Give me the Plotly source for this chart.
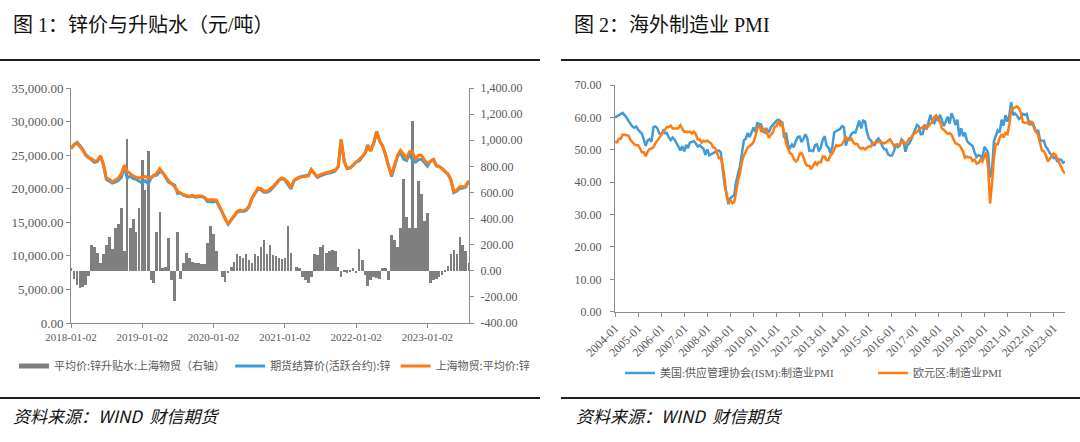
import plotly.graph_objects as go

# ---------------- Left chart: zinc price & premium (semi-monthly readings) ----------------
zinc_spot = [
    26000, 26500, 26800, 26300, 25800, 25000, 24600, 24500, 24100, 24200,
    24900, 23700, 21600, 21400, 21000, 21300, 21600, 22200, 23500, 22600,
    22200, 21900, 21700, 21600, 21700, 21800, 21600, 21600, 21900, 22300,
    23000, 22400, 21700, 21200, 20700, 20300, 19600, 19300, 19100, 19000,
    18900, 19000, 18800, 18900, 18900, 18700, 18300, 18400, 18300, 18300,
    17300, 16400, 15400, 14700, 15400, 16000, 16600, 16800, 16700, 16900,
    17400, 18600, 19500, 20100, 20000, 19700, 19600, 19900, 20300, 20800,
    21300, 21600, 21400, 21000, 20100, 21200, 21500, 21700, 21800, 21800,
    21900, 22800, 22300, 21800, 22100, 22300, 22400, 22500, 22600, 22800,
    23300, 27300, 24000, 23000, 23100, 23500, 24000, 24300, 24800, 25300,
    26400, 25600, 26800, 28500, 27100, 26400, 25000, 23300, 22100, 23500,
    25000, 25700, 25100, 24600, 25500, 25500, 24300, 25000, 25000, 24300,
    23800, 24000, 24300, 23400, 23300, 23000, 22600, 22200, 21400, 19600,
    19800, 20300, 20300, 20400, 21200,
]
zinc_futures = [
    25980, 26560, 26910, 26430, 25930, 25110, 24640, 24300, 23920, 24060,
    24840, 23570, 21400, 21140, 20830, 20970, 21240, 21720, 23350, 21590,
    21870, 21500, 21400, 21120, 20850, 21180, 20680, 21670, 21990, 22000,
    22550, 22380, 21670, 20950, 20770, 20530, 19300, 19360, 19040, 18860,
    18800, 18930, 18740, 18840, 18845, 18650, 18090, 18060, 18020, 18150,
    17300, 16445, 15485, 14720, 15370, 15930, 16470, 16690, 16600, 16770,
    17320, 18540, 19370, 19990, 19815, 19465, 19470, 19700, 20180, 20690,
    21205, 21510, 21300, 20660, 19960, 21200, 21470, 21680, 21845, 21870,
    21995, 22845, 22170, 21680, 21915, 22105, 22260, 22350, 22440, 22650,
    23270, 27345, 24010, 23015, 23110, 23480, 24020, 24130, 24720, 25330,
    26520, 25670, 26845, 28555, 27160, 26380, 24980, 23370, 21825, 23265,
    24815, 25370, 24400, 24190, 25170, 24350, 23970, 24310, 24410, 23920,
    23360, 24095, 24370, 23460, 23345, 23035, 22610, 22160, 21270, 19440,
    19670, 20040, 20100, 20250, 21140,
]
zinc_premium = [
    20, -60, -110, -130, -125, -110, -40, 200, 180, 140,
    60, 130, 200, 260, 170, 330, 360, 480, 150, 1010,
    330, 400, 300, 480, 850, 620, 920, -70, -90, 300,
    450, 20, 30, 250, -70, -230, 300, -60, 60, 140,
    100, 70, 60, 60, 55, 50, 210, 340, 280, 150,
    0, -45, -85, -20, 30, 70, 130, 110, 100, 130,
    80, 60, 130, 110, 185, 235, 130, 200, 120, 110,
    95, 90, 100, 340, 140, 0, 30, 20, -45, -70,
    -95, -45, 130, 120, 185, 195, 140, 150, 160, 150,
    30, -45, -10, -15, -10, 20, -20, 170, 80, -30,
    -120, -70, -45, -55, -60, 20, 20, -70, 275, 235,
    185, 330, 700, 410, 330, 1150, 330, 690, 590, 380,
    440, -95, -70, -60, -45, -35, -10, 40, 130, 160,
    130, 260, 200, 150, 60,
]
left_price_ticks = [0, 5000, 10000, 15000, 20000, 25000, 30000, 35000]
left_price_labels = ["0.00", "5,000.00", "10,000.00", "15,000.00", "20,000.00",
                     "25,000.00", "30,000.00", "35,000.00"]
left_prem_ticks = [-400, -200, 0, 200, 400, 600, 800, 1000, 1200, 1400]
left_prem_labels = ["-400.00", "-200.00", "0.00", "200.00", "400.00", "600.00",
                    "800.00", "1,000.00", "1,200.00", "1,400.00"]
left_x_ticks = ["2018-01-02", "2019-01-02", "2020-01-02", "2021-01-02",
                "2022-01-02", "2023-01-02"]

# ---------------- Right chart: overseas manufacturing PMI (monthly) ----------------
ism_pmi = [
    60.0, 60.4, 60.8, 61.2, 61.4, 60.7, 60.0, 58.9, 58.1, 57.2, 56.8, 57.2,  # 2004
    56.2, 55.4, 55.0, 53.1, 51.2, 52.9, 53.3, 52.5, 57.0, 57.2, 56.6, 55.1,  # 2005
    54.7, 55.9, 55.1, 55.2, 53.8, 53.0, 53.8, 53.1, 52.2, 51.0, 49.8, 51.1,  # 2006
    49.5, 51.5, 50.5, 52.3, 52.4, 52.7, 52.0, 51.0, 51.4, 50.9, 50.3, 48.4,  # 2007
    50.1, 48.3, 48.7, 48.9, 49.3, 49.6, 49.8, 49.2, 44.8, 38.9, 36.5, 33.2,  # 2008
    35.1, 35.5, 36.0, 40.1, 42.8, 45.0, 48.9, 52.9, 53.4, 55.2, 53.9, 55.2,  # 2009
    56.9, 55.5, 58.2, 58.0, 57.8, 56.0, 55.3, 56.3, 55.3, 56.9, 57.7, 58.5,  # 2010
    59.0, 59.3, 58.9, 58.4, 53.7, 55.3, 51.4, 50.6, 51.6, 50.8, 52.7, 53.9,  # 2011
    54.1, 52.4, 53.4, 54.8, 53.5, 49.7, 49.8, 49.6, 51.5, 51.7, 49.5, 50.7,  # 2012
    53.1, 54.2, 51.3, 50.7, 49.0, 50.9, 55.4, 55.7, 56.2, 56.4, 57.3, 57.0,  # 2013
    51.3, 53.2, 53.7, 54.9, 55.4, 55.3, 57.1, 59.0, 56.6, 59.0, 58.7, 55.5,  # 2014
    53.5, 52.9, 51.5, 51.5, 52.8, 53.5, 52.7, 51.1, 50.2, 50.1, 48.6, 48.2,  # 2015
    48.2, 49.5, 51.8, 50.8, 51.3, 53.2, 52.6, 49.4, 51.5, 51.9, 53.2, 54.7,  # 2016
    56.0, 57.7, 57.2, 54.8, 54.9, 57.8, 56.3, 58.8, 60.8, 58.7, 58.2, 59.7,  # 2017
    59.1, 60.8, 59.3, 57.3, 58.7, 60.2, 58.1, 61.3, 59.8, 57.7, 59.3, 54.1,  # 2018
    56.6, 54.2, 55.3, 52.8, 52.1, 51.7, 51.2, 49.1, 47.8, 48.3, 48.1, 47.2,  # 2019
    50.9, 50.1, 49.1, 41.5, 43.1, 52.6, 54.2, 56.0, 55.4, 59.3, 57.5, 60.7,  # 2020
    58.7, 60.8, 64.7, 60.7, 61.2, 60.6, 59.5, 59.9, 61.1, 60.8, 61.1, 58.8,  # 2021
    57.6, 58.6, 57.1, 55.4, 56.1, 53.0, 52.8, 52.8, 50.9, 50.2, 49.0, 48.4,  # 2022
    47.4, 47.7, 46.3, 47.1, 46.9, 46.0, 46.4,                                # 2023
]
ez_pmi = [
    52.4, 52.3, 53.4, 53.4, 54.7, 54.5, 54.5, 54.4, 53.1, 52.4, 51.7, 51.4,  # 2004
    51.4, 50.4, 49.2, 49.2, 48.0, 49.4, 50.2, 50.4, 50.8, 52.0, 52.8, 53.6,  # 2005
    54.4, 55.2, 56.1, 57.0, 57.0, 57.4, 56.6, 56.5, 56.6, 56.7, 57.6, 56.5,  # 2006
    55.5, 55.6, 55.4, 55.6, 55.0, 55.6, 54.9, 53.2, 53.2, 52.2, 52.8, 52.6,  # 2007
    52.8, 52.3, 52.0, 50.7, 50.6, 49.2, 47.4, 47.6, 45.0, 41.1, 35.6, 33.9,  # 2008
    34.4, 33.5, 33.9, 36.8, 40.7, 42.6, 46.3, 48.2, 49.3, 50.7, 51.2, 51.6,  # 2009
    52.4, 54.2, 56.6, 57.6, 55.8, 55.6, 56.7, 55.1, 53.7, 54.6, 55.3, 57.1,  # 2010
    57.3, 59.0, 57.5, 58.0, 54.6, 52.0, 50.4, 49.0, 48.5, 47.1, 46.4, 46.9,  # 2011
    48.8, 49.0, 47.7, 45.9, 45.1, 45.1, 44.0, 45.1, 46.1, 45.4, 46.2, 46.1,  # 2012
    47.9, 47.9, 46.8, 46.7, 48.3, 48.8, 50.3, 51.4, 51.1, 51.3, 51.6, 52.7,  # 2013
    54.0, 53.2, 53.0, 53.4, 52.2, 51.8, 51.8, 50.7, 50.3, 50.6, 50.1, 50.6,  # 2014
    51.0, 51.0, 52.2, 52.0, 52.2, 52.5, 52.4, 52.3, 52.0, 52.3, 52.8, 53.2,  # 2015
    52.3, 51.2, 51.6, 51.7, 51.5, 52.8, 52.0, 51.7, 52.6, 53.5, 53.7, 54.9,  # 2016
    55.2, 55.4, 56.2, 56.7, 57.0, 57.4, 56.6, 57.4, 58.1, 58.5, 60.1, 60.6,  # 2017
    59.6, 58.6, 56.6, 56.2, 55.5, 54.9, 55.1, 54.6, 53.2, 52.0, 51.8, 51.4,  # 2018
    50.5, 49.3, 47.5, 47.9, 47.7, 47.6, 46.5, 47.0, 45.7, 45.9, 46.9, 46.3,  # 2019
    47.9, 49.2, 44.5, 33.4, 39.4, 47.4, 51.8, 51.7, 53.7, 54.8, 53.8, 55.2,  # 2020
    54.8, 57.9, 62.5, 62.9, 63.1, 63.4, 62.8, 61.4, 58.6, 58.3, 58.4, 58.0,  # 2021
    58.7, 58.2, 56.5, 55.5, 54.6, 52.1, 49.8, 49.6, 48.4, 46.4, 47.1, 47.8,  # 2022
    48.8, 48.5, 47.3, 45.8, 44.8, 43.4, 42.7,                                # 2023
]
right_y_ticks = [0, 10, 20, 30, 40, 50, 60, 70]
right_y_labels = ["0.00", "10.00", "20.00", "30.00", "40.00", "50.00", "60.00", "70.00"]
right_years = list(range(2004, 2024))

# ---------------- dates (categories) ----------------
left_dates = []
for i in range(len(zinc_spot)):
    yr = 2018 + (i // 2) // 12
    mo = (i // 2) % 12 + 1
    dy = 2 if i % 2 == 0 else 17
    left_dates.append(f"{yr}-{mo:02d}-{dy:02d}")

pmi_dates = []
for i in range(len(ism_pmi)):
    yr = 2004 + i // 12
    mo = i % 12 + 1
    pmi_dates.append(f"{yr}-{mo:02d}-01")

BLUE = "#3F9BDA"
ORANGE = "#FF7B0F"
GRAY = "#7F7F7F"
AXIS = "#8C8C8C"
TXT = "#595959"
CJK = "Noto Sans CJK SC"
SERIF = "Liberation Serif, Noto Sans CJK SC"

fig = go.Figure()

# left chart
fig.add_trace(go.Bar(x=left_dates, y=zinc_premium, xaxis="x", yaxis="y",
                     marker=dict(color=GRAY, line=dict(width=0)),
                     showlegend=False, name="平均价:锌升贴水:上海物贸（右轴）"))
fig.add_trace(go.Scatter(x=[None], y=[None], xaxis="x", yaxis="y", mode="lines",
                         line=dict(color=GRAY, width=5),
                         name="平均价:锌升贴水:上海物贸（右轴）", legend="legend"))
fig.add_trace(go.Scatter(x=left_dates, y=zinc_futures, xaxis="x", yaxis="y2", mode="lines",
                         line=dict(color=BLUE, width=3),
                         name="期货结算价(活跃合约):锌", legend="legend"))
fig.add_trace(go.Scatter(x=left_dates, y=zinc_spot, xaxis="x", yaxis="y2", mode="lines",
                         line=dict(color=ORANGE, width=3),
                         name="上海物贸:平均价:锌", legend="legend"))

# right chart
fig.add_trace(go.Scatter(x=pmi_dates, y=ism_pmi, xaxis="x2", yaxis="y3", mode="lines",
                         line=dict(color=BLUE, width=2.5),
                         name="美国:供应管理协会(ISM):制造业PMI", legend="legend2"))
fig.add_trace(go.Scatter(x=pmi_dates, y=ez_pmi, xaxis="x2", yaxis="y3", mode="lines",
                         line=dict(color=ORANGE, width=2.5),
                         name="欧元区:制造业PMI", legend="legend2"))

axis_common = dict(showgrid=False, zeroline=False, showline=True, linecolor=AXIS,
                   linewidth=1, ticks="outside", ticklen=4, tickcolor=AXIS)

def tfont(size):
    return dict(family=SERIF, size=size, color=TXT)

W, H = 1080, 442
def px_x(v):
    return v / W
def px_y(v):
    return 1 - v / H

fig.update_layout(
    width=W, height=H, margin=dict(l=0, r=0, t=0, b=0, autoexpand=False),
    paper_bgcolor="white", plot_bgcolor="white",
    bargap=0,
    xaxis=dict(**axis_common, domain=[px_x(71), px_x(469)], anchor="y", type="date",
               range=["2018-01-02", "2023-08-03"], tickvals=left_x_ticks,
               ticktext=left_x_ticks, tickfont=tfont(11)),
    yaxis=dict(**axis_common, domain=[px_y(323), px_y(88)], anchor="x", side="right",
               range=[-400, 1400], tickvals=left_prem_ticks, ticktext=left_prem_labels,
               tickfont=tfont(12), ticklabelstandoff=4),
    yaxis2=dict(**axis_common, overlaying="y", anchor="x", side="left",
                range=[0, 35000], tickvals=left_price_ticks, ticktext=left_price_labels,
                tickfont=tfont(13)),
    xaxis2=dict(**axis_common, domain=[px_x(615), px_x(1065)], anchor="y3", type="date",
                range=["2004-01-01", "2023-07-01"],
                tickvals=[f"{y}-01-01" for y in right_years],
                ticktext=[f"{y}-01" for y in right_years], tickangle=-45,
                tickfont=tfont(12)),
    yaxis3=dict(**axis_common, domain=[px_y(311.7), px_y(85)], anchor="x2",
                range=[0, 70], tickvals=right_y_ticks, ticktext=right_y_labels,
                tickfont=tfont(12), ticklabelstandoff=6),
    legend=dict(orientation="h", x=px_x(14), y=px_y(366), xanchor="left", yanchor="middle",
                font=dict(family=CJK, size=11, color=TXT), bgcolor="rgba(0,0,0,0)",
                itemwidth=30, tracegroupgap=0),
    legend2=dict(orientation="h", x=px_x(620), y=px_y(373), xanchor="left", yanchor="middle",
                 font=dict(family=SERIF, size=11, color=TXT), bgcolor="rgba(0,0,0,0)",
                 itemwidth=30, entrywidth=208, entrywidthmode="pixels"),
    shapes=[
        dict(type="line", xref="paper", yref="paper", x0=0, x1=px_x(540),
             y0=px_y(60), y1=px_y(60), line=dict(color="#1E1E1E", width=2)),
        dict(type="line", xref="paper", yref="paper", x0=px_x(561), x1=1,
             y0=px_y(60), y1=px_y(60), line=dict(color="#1E1E1E", width=2)),
        dict(type="line", xref="paper", yref="paper", x0=0, x1=px_x(540),
             y0=px_y(398), y1=px_y(398), line=dict(color="#1E1E1E", width=2)),
        dict(type="line", xref="paper", yref="paper", x0=px_x(561), x1=1,
             y0=px_y(398), y1=px_y(398), line=dict(color="#1E1E1E", width=2)),
    ],
    annotations=[
        dict(text="图 1：锌价与升贴水（元/吨）", xref="paper", yref="paper",
             x=px_x(11), y=px_y(25), xanchor="left", yanchor="middle", showarrow=False,
             font=dict(family=SERIF, size=20, color="#111111")),
        dict(text="图 2：海外制造业 PMI", xref="paper", yref="paper",
             x=px_x(572), y=px_y(25), xanchor="left", yanchor="middle", showarrow=False,
             font=dict(family=SERIF, size=20, color="#111111")),
        dict(text="<i>资料来源：WIND  财信期货</i>", xref="paper", yref="paper",
             x=px_x(11), y=px_y(415), xanchor="left", yanchor="middle", showarrow=False,
             font=dict(family=CJK, size=17, color="#111111")),
        dict(text="<i>资料来源：WIND  财信期货</i>", xref="paper", yref="paper",
             x=px_x(574), y=px_y(415), xanchor="left", yanchor="middle", showarrow=False,
             font=dict(family=CJK, size=17, color="#111111")),
    ],
)

fig.write_html("out.html")
